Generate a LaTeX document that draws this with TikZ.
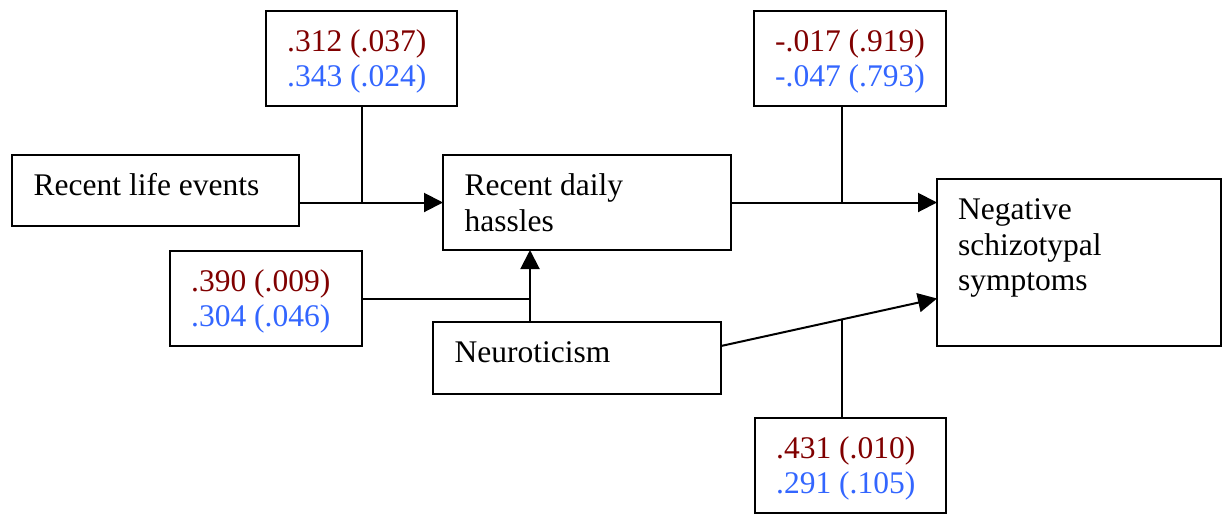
\documentclass[tikz,border=0pt]{standalone}
\usepackage{fontspec}
\setmainfont{Liberation Serif}
\usetikzlibrary{arrows.meta}
\usetikzlibrary{calc}
\usetikzlibrary{positioning}

\definecolor{estred}{RGB}{128,0,0}
\definecolor{estblue}{RGB}{51,102,255}

\tikzset{
  box/.style={draw, line width=2pt, inner sep=0pt, outer sep=0pt, anchor=north west},
  txt/.style={anchor=north west, inner sep=0pt, align=left,
    font=\fontsize{31.5}{35.5}\selectfont},
  link/.style={line width=2pt},
  arrowlink/.style={link, -{Triangle[length=19pt, width=19pt]}}
}

\newcommand{\tstrut}{\rule{0pt}{24pt}}

\begin{document}
\begin{tikzpicture}[x=1pt, y=-1pt]
  \useasboundingbox (0,0) rectangle (1223,515);

  \newcommand{\est}[2]{\tstrut\textcolor{estred}{#1}\\\textcolor{estblue}{#2}}

  % variable boxes
  \node[box, minimum width=287pt, minimum height=71pt] (life) at (12,155) {};
  \node[box, minimum width=288pt, minimum height=95pt] (hassles) at (443,155) {};
  \node[box, minimum width=288pt, minimum height=72pt] (neuro) at (433,322) {};
  \node[box, minimum width=284pt, minimum height=167pt] (neg) at (937,179) {};

  \node[txt] (lifetxt) at ([shift={(21.5,16.5)}]life.north west) {\tstrut Recent life events};
  \node[txt] (hasslestxt) at ([shift={(21.5,16.5)}]hassles.north west) {\tstrut Recent daily\\hassles};
  \node[txt] (neurotxt) at ([shift={(21.5,16.5)}]neuro.north west) {\tstrut Neuroticism};
  \node[txt] (negtxt) at ([shift={(21,16.5)}]neg.north west) {\tstrut Negative\\schizotypal\\symptoms};

  % estimate boxes
  \node[box, minimum width=191pt, minimum height=95pt] (ca) at (266,11) {};
  \node[box, minimum width=192pt, minimum height=95pt] (cb) at (754,11) {};
  \node[box, minimum width=192pt, minimum height=95pt] (cc) at (170,251) {};
  \node[box, minimum width=191pt, minimum height=95pt] (cd) at (755,418) {};

  \node[txt] (catxt) at ([shift={(21,16)}]ca.north west) {\est{.312 (.037)}{.343 (.024)}};
  \node[txt] (cbtxt) at ([shift={(21,16)}]cb.north west) {\est{-.017 (.919)}{-.047 (.793)}};
  \node[txt] (cctxt) at ([shift={(21,16)}]cc.north west) {\est{.390 (.009)}{.304 (.046)}};
  \node[txt] (cdtxt) at ([shift={(21,16)}]cd.north west) {\est{.431 (.010)}{.291 (.105)}};

  % paths
  \coordinate (jb) at (842,0);
  \coordinate (jc) at (530,0);
  \coordinate (ns) at (721,346);
  \coordinate (ne) at (937,298.5);
  \coordinate (jd) at ($(ns)!0.56!(ne)$);

  \draw[arrowlink] (life.east |- hassles.west) -- (hassles.west);
  \draw[link] (ca.south) -- (ca.south |- hassles.west);

  \draw[arrowlink] (hassles.east) -- (neg.west |- hassles.east);
  \draw[link] (cb.south -| jb) -- (jb |- hassles.east);

  \draw[arrowlink] (neuro.north -| jc) -- (hassles.south -| jc);
  \draw[link] (cc.east) -- (cc.east -| jc);

  \draw[arrowlink] (ns) -- (ne);
  \draw[link] (cd.north -| jd) -- (jd);
\end{tikzpicture}
\end{document}
